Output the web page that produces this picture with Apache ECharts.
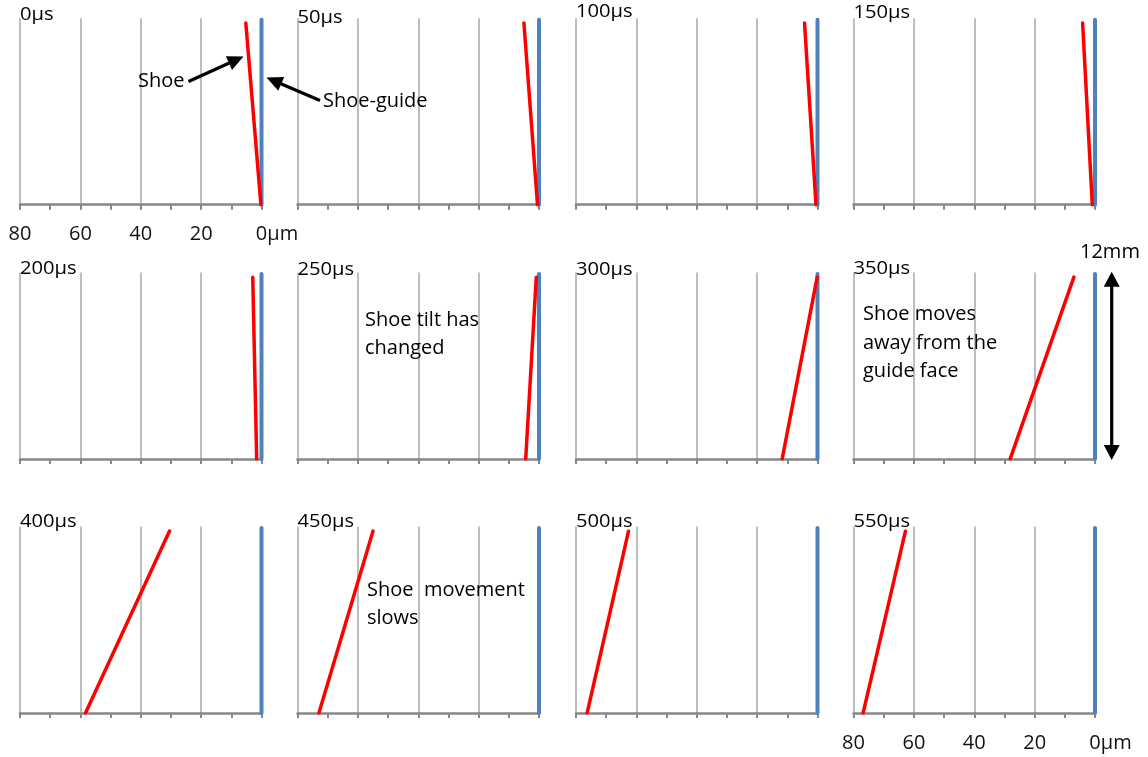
<!DOCTYPE html>
<html>
<head>
<meta charset="utf-8">
<title>Shoe and shoe-guide profiles</title>
<script src="https://cdn.jsdelivr.net/npm/echarts@6/dist/echarts.min.js"></script>
<style>
  html, body { margin: 0; padding: 0; background: #ffffff; }
  #chart { width: 1148px; height: 757px; }
</style>
</head>
<body>
<div id="chart"></div>
<script>
// Snapshot times, one small panel each
const panelTimes = ['0µs', '50µs', '100µs', '150µs', '200µs', '250µs',
                    '300µs', '350µs', '400µs', '450µs', '500µs', '550µs'];
// Gap between shoe and guide face (µm) at the bottom of the shoe
const shoeFootUm = [0.2, 0.5, 0.5, 0.9, 1.6, 4.4, 11.7, 28.1, 58.3, 72.9, 76.3, 76.8];
// Gap between shoe and guide face (µm) at the top of the shoe
const shoeHeadUm = [5.2, 5.0, 4.3, 4.1, 2.9, 0.9, 0.1, 7.0, 30.5, 55.0, 62.6, 62.8];
// Heights along the face (mm)
const shoeHeightMm = 11.7;
const guideHeightMm = 11.9;
const faceHeightMm = 12;
// Gap axis ticks (µm)
const gapTicks = [0, 20, 40, 60, 80];
const gapUnit = 'µm';

// Panel layout (pixels)
const colLeft = [20, 297.5, 576, 853.5];
const rowTop = [18.3, 272.5, 526.5];
const panelW = 241.5;
const panelH = 186.4;
const titleDy = [-3.5, 0, -6.5, -5, -3.5, -3, -3, -3.5, -4.5, -5, -5, -5];
const labelledPanels = [0, 11];

const FONT = "'Open Sans', sans-serif";
const RED = '#ff0000';
const BLUE = '#4f81bd';

const chart = echarts.init(document.getElementById('chart'), null, { renderer: 'canvas' });

const grids = [], xAxes = [], yAxes = [], series = [], graphic = [];

panelTimes.forEach((t, i) => {
  const r = Math.floor(i / 4), c = i % 4;
  grids.push({ left: colLeft[c], top: rowTop[r], width: panelW, height: panelH, containLabel: false });
  const showLabels = labelledPanels.indexOf(i) >= 0;
  xAxes.push({
    gridIndex: i, type: 'value', inverse: true,
    min: gapTicks[0], max: gapTicks[gapTicks.length - 1], interval: gapTicks[1] - gapTicks[0],
    axisLine: { show: true, lineStyle: { color: '#878787', width: 2.5 } },
    axisTick: { show: true, length: 5, lineStyle: { color: '#878787', width: 2 } },
    minorTick: { show: true, splitNumber: 2, length: 5, lineStyle: { color: '#878787', width: 2 } },
    splitLine: { show: true, lineStyle: { color: '#a8a8a8', width: 1.5 } },
    axisLabel: {
      show: showLabels, margin: 20, color: '#111',
      fontFamily: FONT, fontSize: 20,
      formatter: v => v === 0 ? '{pad|\u00a0}0' + gapUnit : String(v),
      rich: { pad: { width: 31, fontFamily: FONT, fontSize: 20 } }
    }
  });
  yAxes.push({
    gridIndex: i, type: 'value', min: 0, max: faceHeightMm, show: false
  });
  series.push({
    type: 'line', xAxisIndex: i, yAxisIndex: i, silent: true, showSymbol: false,
    data: [[0, 0], [0, guideHeightMm]],
    lineStyle: { color: BLUE, width: 4, cap: 'round' }, z: 3
  });
  series.push({
    type: 'line', xAxisIndex: i, yAxisIndex: i, silent: true, showSymbol: false,
    data: [[shoeFootUm[i], 0], [shoeHeadUm[i], shoeHeightMm]],
    lineStyle: { color: RED, width: 3.5, cap: 'round' }, z: 4
  });
  graphic.push({
    type: 'text', x: colLeft[c], y: rowTop[r] + titleDy[i], scaleX: 1.12, z: 10,
    style: { text: t, font: '18px ' + FONT, fill: '#000', align: 'left', verticalAlign: 'middle' }
  });
});

// Annotation helpers
function head(tx, ty, fx, fy, len, half) {
  const dx = tx - fx, dy = ty - fy, d = Math.hypot(dx, dy);
  const ux = dx / d, uy = dy / d;
  const bx = tx - ux * len, by = ty - uy * len;
  return {
    poly: { type: 'polygon', z: 10, shape: { points: [[tx, ty], [bx - uy * half, by + ux * half], [bx + uy * half, by - ux * half]] }, style: { fill: '#000' } },
    base: [bx + ux * 1, by + uy * 1]
  };
}
function arrow(x1, y1, x2, y2, len, half, both) {
  const h2 = head(x2, y2, x1, y1, len, half);
  let start = [x1, y1];
  const out = [h2.poly];
  if (both) {
    const h1 = head(x1, y1, x2, y2, len, half);
    start = h1.base;
    out.push(h1.poly);
  }
  out.push({ type: 'line', z: 10, shape: { x1: start[0], y1: start[1], x2: h2.base[0], y2: h2.base[1] }, style: { stroke: '#000', lineWidth: 3.2 } });
  return out;
}
function textBlock(x, y, lines, lh) {
  return lines.map((s, k) => ({
    type: 'text', x: x, y: y + k * lh, z: 10,
    style: { text: s, font: '20px ' + FONT, fill: '#000', align: 'left', verticalAlign: 'middle' }
  }));
}

graphic.push(...textBlock(138, 81, ['Shoe'], 28));
graphic.push(...arrow(188.5, 81.5, 243.5, 56.5, 16, 7.5, false));
graphic.push(...textBlock(323, 101, ['Shoe-guide'], 28));
graphic.push(...arrow(320, 100.5, 266.5, 77.5, 16, 7.5, false));
graphic.push(...textBlock(365, 320, ['Shoe tilt has', 'changed'], 28));
graphic.push(...textBlock(863, 314.5, ['Shoe moves', 'away from the', 'guide face'], 28.3));
graphic.push(...textBlock(1080, 252, ['12mm'], 28));
graphic.push(...arrow(1111.7, 271.7, 1111.7, 460, 15, 8, true));
graphic.push(...textBlock(367, 590.5, ['Shoe  movement', 'slows'], 27.5));

chart.setOption({
  backgroundColor: '#ffffff',
  animation: false,
  grid: grids,
  xAxis: xAxes,
  yAxis: yAxes,
  series: series,
  graphic: graphic
});
</script>
</body>
</html>
